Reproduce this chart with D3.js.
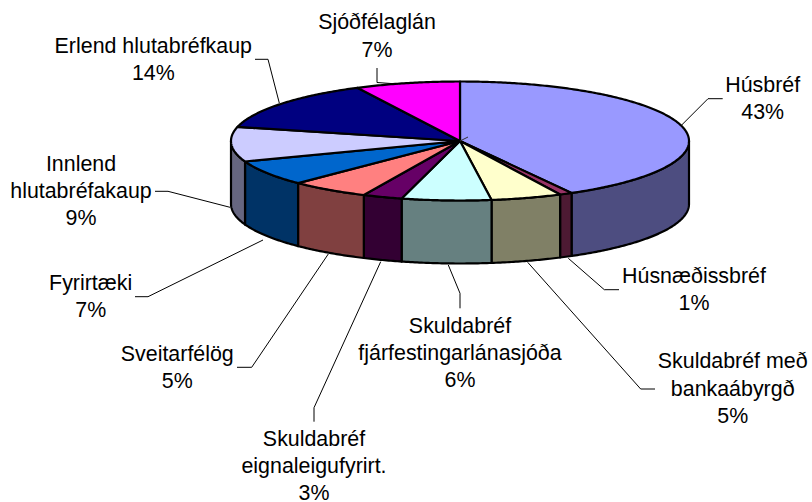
<!DOCTYPE html>
<html>
<head>
<meta charset="utf-8">
<script src="https://cdn.jsdelivr.net/npm/d3@7"></script>
<style>
  html, body { margin: 0; padding: 0; background: #fff; }
  svg { display: block; }
  text { font-family: "Liberation Sans", Arial, sans-serif; font-size: 21.4px; fill: #000; }
</style>
</head>
<body>
<div id="chart"></div>
<script>
// values, the printed percent labels are kept apart
var categories = ["Húsbréf", "Húsnæðissbréf", "Skuldabréf með\nbankaábyrgð", "Skuldabréf\nfjárfestingarlánasjóða",
  "Skuldabréf\neignaleigufyrirt.", "Sveitarfélög", "Fyrirtæki", "Innlend\nhlutabréfakaup", "Erlend hlutabréfkaup", "Sjóðfélaglán"];
var values = [41.9, 0.9, 5, 6.3, 2.8, 5.6, 6.9, 9.4, 13.8, 7.4];
var percentLabels = ["43%", "1%", "5%", "6%", "3%", "5%", "7%", "9%", "14%", "7%"];
var colors = ["#9999ff", "#993366", "#ffffcc", "#ccffff", "#660066", "#ff8080", "#0066cc", "#ccccff", "#000080", "#ff00ff"];

// where each label sits: centre x, first baseline, leader line
var labelLayout = [
  { x: 762.7, y: 91.7, leader: [[722.7, 98.7], [708, 98.7], [681.7, 125]] },
  { x: 694, y: 282.7, leader: [[619, 289.7], [604.3, 289.7], [568.3, 258.3]] },
  { x: 732.7, y: 368.3, leader: [[655, 389], [640.7, 389], [527.7, 262.3]] },
  { x: 460, y: 332.7, leader: [[460, 308.3], [460, 293.3], [448.3, 265]] },
  { x: 314, y: 445.7, leader: [[314, 421.7], [314, 407.7], [380.7, 261.7]] },
  { x: 177.3, y: 361, leader: [[237, 367.3], [251.7, 367.3], [328.3, 254]] },
  { x: 90.7, y: 290, leader: [[135, 296.7], [148, 296.7], [263, 240]] },
  { x: 81, y: 170.7, leader: [[155, 191.3], [168, 191.3], [230, 207.3]] },
  { x: 153.3, y: 52.7, leader: [[255, 59.3], [268, 59.3], [279.3, 103]] },
  { x: 377, y: 29.3, leader: [[377, 68], [377, 82.5], [398, 84]] }
];

var width = 812, height = 502;
var cx = 460, cy = 141, rx = 229, ry = 59.5, depth = 63;
var lineHeight = 27.3;

var svg = d3.select("#chart").append("svg")
  .attr("width", width)
  .attr("height", height);

// unit circle to screen, the disc is just a squashed circle
var x = d3.scaleLinear().domain([-1, 1]).range([cx - rx, cx + rx]);
var y = d3.scaleLinear().domain([-1, 1]).range([cy - ry, cy + ry]);

var slices = d3.pie().sort(null)(values);

var line = d3.line();

function rimPoints(a0, a1, drop) {
  var n = Math.max(2, Math.ceil((a1 - a0) / 0.01));
  return d3.range(n + 1).map(function (i) {
    var a = a0 + (a1 - a0) * i / n;
    return [x(Math.sin(a)), y(-Math.cos(a)) + drop];
  });
}

function half(c) {
  var rgb = d3.rgb(c);
  return d3.rgb(rgb.r / 2, rgb.g / 2, rgb.b / 2).formatHex();
}

// side wall, only the front half of the disc shows
var sides = svg.append("g")
  .attr("stroke", "#000")
  .attr("stroke-width", 2.2)
  .attr("stroke-linejoin", "round");

slices.forEach(function (d, i) {
  var a0 = Math.max(d.startAngle, Math.PI / 2);
  var a1 = Math.min(d.endAngle, Math.PI * 1.5);
  if (a1 <= a0) return;
  var pts = rimPoints(a0, a1, 0).concat(rimPoints(a0, a1, depth).reverse());
  sides.append("path")
    .attr("d", line(pts) + "Z")
    .attr("fill", half(colors[i]));
});

// top of the disc
svg.append("g")
  .attr("stroke", "#000")
  .attr("stroke-width", 2.2)
  .attr("stroke-linejoin", "round")
  .selectAll("path")
  .data(slices)
  .enter().append("path")
  .attr("fill", function (d, i) { return colors[i]; })
  .attr("d", function (d) {
    return line([[cx, cy]].concat(rimPoints(d.startAngle, d.endAngle, 0))) + "Z";
  });

// leader lines
svg.append("g")
  .attr("fill", "none")
  .attr("stroke", "#000")
  .attr("stroke-width", 1)
  .selectAll("path")
  .data(labelLayout)
  .enter().append("path")
  .attr("d", function (d) { return line(d.leader); });

// small leftover tick at the centre of the pie
svg.append("path")
  .attr("d", line([[cx, cy], [cx + 8, cy - 4]]))
  .attr("stroke", "#333")
  .attr("stroke-width", 1);

// labels
var labels = svg.append("g")
  .attr("text-anchor", "middle")
  .selectAll("text")
  .data(categories)
  .enter().append("text");

labels.each(function (d, i) {
  var rows = d.split("\n").concat(percentLabels[i]);
  d3.select(this).selectAll("tspan")
    .data(rows)
    .enter().append("tspan")
    .attr("x", labelLayout[i].x)
    .attr("y", function (r, j) { return labelLayout[i].y + j * lineHeight; })
    .text(function (r) { return r; });
});
</script>
</body>
</html>
